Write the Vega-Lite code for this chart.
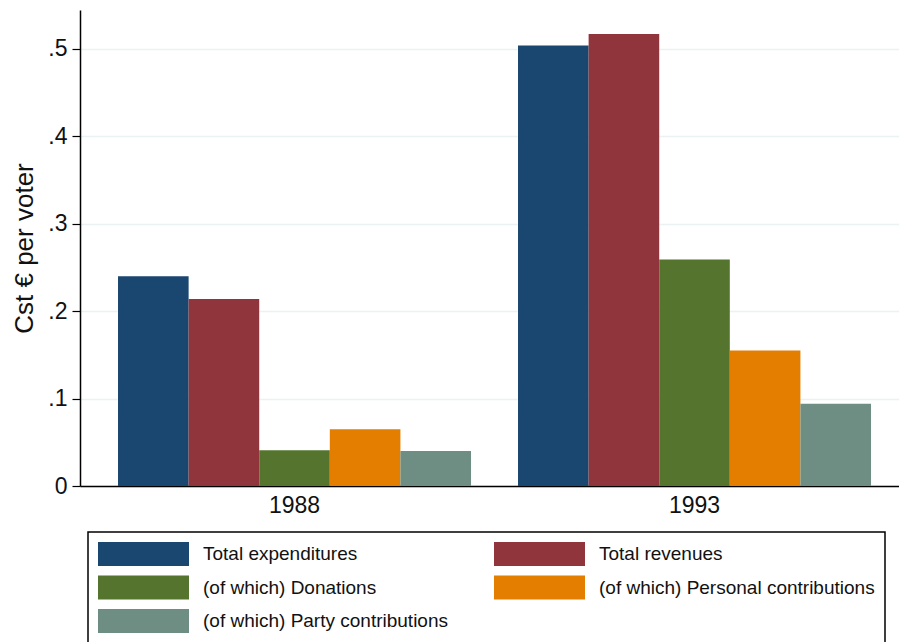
{
  "$schema": "https://vega.github.io/schema/vega-lite/v6.json",
  "width": 819,
  "height": 476,
  "autosize": "none",
  "padding": {"left": 80, "top": 10, "right": 0, "bottom": 156},
  "background": "white",
  "config": {
    "font": "Liberation Sans",
    "view": {"stroke": null}
  },
  "data": {
    "values": [
      {"year": "1988", "series": "Total expenditures", "value": 0.240},
      {"year": "1988", "series": "Total revenues", "value": 0.214},
      {"year": "1988", "series": "(of which) Donations", "value": 0.041},
      {"year": "1988", "series": "(of which) Personal contributions", "value": 0.065},
      {"year": "1988", "series": "(of which) Party contributions", "value": 0.040},
      {"year": "1993", "series": "Total expenditures", "value": 0.504},
      {"year": "1993", "series": "Total revenues", "value": 0.517},
      {"year": "1993", "series": "(of which) Donations", "value": 0.259},
      {"year": "1993", "series": "(of which) Personal contributions", "value": 0.155},
      {"year": "1993", "series": "(of which) Party contributions", "value": 0.094}
    ]
  },
  "mark": {"type": "bar", "cornerRadius": 0},
  "encoding": {
    "x": {
      "field": "year",
      "type": "nominal",
      "scale": {"paddingInner": 0.1175, "paddingOuter": 0.0825, "align": 0.576},
      "axis": {
        "title": null,
        "labelAngle": 0,
        "labelFontSize": 23,
        "labelColor": "#111",
        "labelPadding": 8,
        "ticks": false,
        "domainColor": "#000",
        "domainWidth": 1.5
      }
    },
    "xOffset": {
      "field": "series",
      "type": "nominal",
      "sort": ["Total expenditures", "Total revenues", "(of which) Donations", "(of which) Personal contributions", "(of which) Party contributions"],
      "scale": {"paddingInner": 0, "paddingOuter": 0}
    },
    "y": {
      "field": "value",
      "type": "quantitative",
      "scale": {"domain": [0, 0.5446], "nice": false, "zero": true},
      "axis": {
        "title": "Cst € per voter",
        "titleFontSize": 26,
        "titleFontWeight": "normal",
        "titleColor": "#111",
        "titlePadding": 10,
        "values": [0, 0.1, 0.2, 0.3, 0.4, 0.5],
        "labelExpr": "datum.value == 0 ? '0' : substring(format(datum.value, '.1f'), 1)",
        "labelFontSize": 23,
        "labelColor": "#111",
        "labelPadding": 5,
        "tickColor": "#000",
        "tickSize": 8,
        "tickWidth": 1.2,
        "domainColor": "#000",
        "domainWidth": 1.5,
        "grid": true,
        "gridColor": "#EAF2F3",
        "gridWidth": 1.5
      }
    },
    "color": {
      "field": "series",
      "type": "nominal",
      "scale": {
        "domain": ["Total expenditures", "Total revenues", "(of which) Donations", "(of which) Personal contributions", "(of which) Party contributions"],
        "range": ["#1a476f", "#90353b", "#55752f", "#e37e00", "#6e8e84"]
      },
      "legend": {
        "title": null,
        "orient": "none",
        "legendX": 8,
        "legendY": 522,
        "direction": "horizontal",
        "columns": 2,
        "columnPadding": 46,
        "rowPadding": 9.5,
        "padding": 10,
        "strokeColor": "#000",
        "symbolType": "M-1,-1H6.5833V1H-1Z",
        "symbolSize": 576,
        "symbolStrokeWidth": 0,
        "symbolOpacity": 1,
        "labelFontSize": 19,
        "labelColor": "#111",
        "labelOffset": 81,
        "labelLimit": 400,
        "labelExpr": "datum.label == '(of which) Personal contributions' ? datum.label + '\u00a0\u00a0\u00a0\u00a0\u00a0' : datum.label",
        "encode": {"legend": {"update": {"strokeWidth": {"value": 1.5}}}}
      }
    }
  }
}
